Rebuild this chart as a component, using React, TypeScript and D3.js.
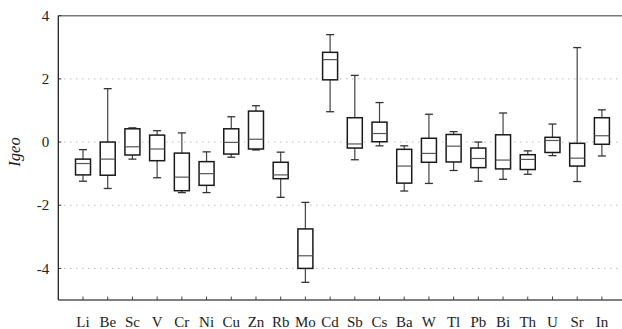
import React, { useRef, useEffect } from 'react';
import { select, scaleLinear, scalePoint } from 'd3';

// Igeo box statistics per element
const elements = ['Li', 'Be', 'Sc', 'V', 'Cr', 'Ni', 'Cu', 'Zn', 'Rb', 'Mo', 'Cd', 'Sb', 'Cs', 'Ba', 'W', 'Tl', 'Pb', 'Bi', 'Th', 'U', 'Sr', 'In'];
const whiskerHigh = [-0.24, 1.69, 0.45, 0.36, 0.29, -0.31, 0.8, 1.15, -0.32, -1.91, 3.4, 2.11, 1.25, -0.12, 0.88, 0.33, 0.0, 0.92, -0.28, 0.57, 2.99, 1.02];
const q3 = [-0.54, 0.0, 0.42, 0.22, -0.35, -0.62, 0.42, 0.98, -0.64, -2.75, 2.84, 0.77, 0.63, -0.23, 0.12, 0.24, -0.19, 0.23, -0.4, 0.15, -0.04, 0.77];
const medians = [-0.68, -0.54, -0.15, -0.22, -1.11, -1.0, -0.01, 0.09, -1.04, -3.6, 2.61, -0.06, 0.27, -0.76, -0.36, -0.13, -0.52, -0.57, -0.55, 0.05, -0.51, 0.2];
const q1 = [-1.04, -1.05, -0.41, -0.59, -1.54, -1.37, -0.38, -0.22, -1.16, -4.0, 1.97, -0.19, 0.01, -1.3, -0.64, -0.63, -0.81, -0.85, -0.87, -0.33, -0.76, -0.07];
const whiskerLow = [-1.24, -1.47, -0.54, -1.13, -1.6, -1.6, -0.48, -0.25, -1.75, -4.44, 0.96, -0.56, -0.12, -1.55, -1.31, -0.9, -1.24, -1.18, -1.02, -0.43, -1.25, -0.44];
const yTicks = [-4, -2, 0, 2, 4];

const App: React.FC = () => {
  const svgRef = useRef<SVGSVGElement | null>(null);

  useEffect(() => {
    if (!svgRef.current) return;
    const svg = select(svgRef.current);
    svg.selectAll('*').remove();

    const width = 622;
    const margin = { top: 15.7, left: 58.3, bottom: 300 };
    const plotRight = 626.6; // frame runs past the right edge of the picture

    const x = scalePoint<string>().domain(elements).range([margin.left, plotRight]).padding(1);
    const y = scaleLinear().domain([-5, 4]).range([margin.bottom, margin.top]);

    const rows = elements.map((e, i) => ({
      e, hi: whiskerHigh[i], q3: q3[i], med: medians[i], q1: q1[i], lo: whiskerLow[i],
    }));

    // dotted grid
    svg.append('g').selectAll('line')
      .data(yTicks.filter(t => t !== 4))
      .join('line')
      .attr('x1', margin.left).attr('x2', width)
      .attr('y1', d => y(d)).attr('y2', d => y(d))
      .attr('stroke', '#9a9a9a').attr('stroke-width', 1)
      .attr('stroke-dasharray', '1,5');

    // frame
    svg.append('line').attr('x1', margin.left).attr('x2', width)
      .attr('y1', margin.top).attr('y2', margin.top)
      .attr('stroke', '#7a7a7a').attr('stroke-width', 1.5);
    svg.append('line').attr('x1', margin.left).attr('x2', width)
      .attr('y1', margin.bottom).attr('y2', margin.bottom)
      .attr('stroke', '#555').attr('stroke-width', 1.5);
    svg.append('line').attr('x1', margin.left).attr('x2', margin.left)
      .attr('y1', margin.top).attr('y2', margin.bottom)
      .attr('stroke', '#222').attr('stroke-width', 1.3);

    // y ticks and labels
    const yAxis = svg.append('g');
    yAxis.selectAll('line').data(yTicks).join('line')
      .attr('x1', margin.left).attr('x2', margin.left + 3)
      .attr('y1', d => y(d)).attr('y2', d => y(d))
      .attr('stroke', '#333');
    yAxis.selectAll('text').data(yTicks).join('text')
      .attr('class', 'serif')
      .attr('x', margin.left - 9).attr('y', d => y(d))
      .attr('dy', '0.35em').attr('text-anchor', 'end')
      .attr('font-size', 15).attr('fill', '#222')
      .text(d => String(d));

    // x ticks and labels
    const xAxis = svg.append('g');
    xAxis.selectAll('line').data(elements).join('line')
      .attr('x1', d => x(d)!).attr('x2', d => x(d)!)
      .attr('y1', margin.bottom).attr('y2', margin.bottom - 3.5)
      .attr('stroke', '#444');
    xAxis.selectAll('text').data(elements).join('text')
      .attr('class', 'serif')
      .attr('x', d => x(d)!).attr('y', 326.5)
      .attr('text-anchor', 'middle')
      .attr('font-size', 15).attr('fill', '#222')
      .text(d => d);

    // y label
    svg.append('text')
      .attr('class', 'serif')
      .attr('transform', 'translate(19.5,152) rotate(-90)')
      .attr('text-anchor', 'middle')
      .attr('font-size', 16.5).attr('font-style', 'italic')
      .attr('fill', '#222')
      .text('Igeo');

    // boxes
    const boxW = 15;
    const capW = 8;
    const g = svg.append('g').selectAll('g').data(rows).join('g');
    g.append('line')
      .attr('x1', d => x(d.e)!).attr('x2', d => x(d.e)!)
      .attr('y1', d => y(d.hi)).attr('y2', d => y(d.q3))
      .attr('stroke', '#444').attr('stroke-width', 1.2);
    g.append('line')
      .attr('x1', d => x(d.e)!).attr('x2', d => x(d.e)!)
      .attr('y1', d => y(d.q1)).attr('y2', d => y(d.lo))
      .attr('stroke', '#444').attr('stroke-width', 1.2);
    g.append('line')
      .attr('x1', d => x(d.e)! - capW / 2).attr('x2', d => x(d.e)! + capW / 2)
      .attr('y1', d => y(d.hi)).attr('y2', d => y(d.hi))
      .attr('stroke', '#333').attr('stroke-width', 1.3);
    g.append('line')
      .attr('x1', d => x(d.e)! - capW / 2).attr('x2', d => x(d.e)! + capW / 2)
      .attr('y1', d => y(d.lo)).attr('y2', d => y(d.lo))
      .attr('stroke', '#333').attr('stroke-width', 1.3);
    g.append('rect')
      .attr('x', d => x(d.e)! - boxW / 2).attr('width', boxW)
      .attr('y', d => y(d.q3)).attr('height', d => y(d.q1) - y(d.q3))
      .attr('fill', 'white').attr('stroke', '#1a1a1a').attr('stroke-width', 1.5);
    g.append('line')
      .attr('x1', d => x(d.e)! - boxW / 2).attr('x2', d => x(d.e)! + boxW / 2)
      .attr('y1', d => y(d.med)).attr('y2', d => y(d.med))
      .attr('stroke', '#555').attr('stroke-width', 1.2);
  }, []);

  return (
    <div style={{ position: 'absolute', left: 0, top: 0, width: 622, height: 329, background: 'white' }}>
      <style>{`.serif { font-family: 'Liberation Serif', 'DejaVu Serif', Times, serif; }`}</style>
      <svg ref={svgRef} width={622} height={329} style={{ display: 'block' }}></svg>
    </div>
  );
};

export default App;
